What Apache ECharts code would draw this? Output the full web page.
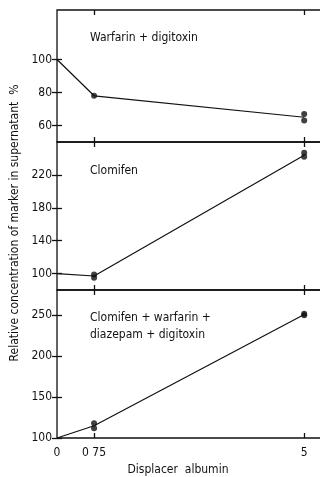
<!DOCTYPE html>
<html>
<head>
<meta charset="utf-8">
<script src="https://cdn.jsdelivr.net/npm/echarts@6/dist/echarts.min.js"></script>
<style>
  html, body { margin: 0; padding: 0; background: #fff; }
  #chart { width: 320px; height: 477px; }
</style>
</head>
<body>
<div id="chart"></div>
<script>
// x positions (displacer albumin) and tick labels
var xTicks = [0, 0.75, 5];
var xTickLabels = ['0', '0 75', '5'];

// panel titles
var panelTitles = [['Warfarin + digitoxin'], ['Clomifen'], ['Clomifen + warfarin +', 'diazepam + digitoxin']];

// connecting line (mean values) per panel
var lineWarfarin = [[0, 100], [0.75, 78], [5, 65]];
var lineClomifen = [[0, 100], [0.75, 97], [5, 244]];
var lineMix = [[0, 100], [0.75, 115], [5, 251]];

// measured dots per panel
var dotsWarfarin = [[0.75, 78], [5, 67], [5, 63]];
var dotsClomifen = [[0.75, 99], [0.75, 95], [5, 247], [5, 242]];
var dotsMix = [[0.75, 118], [0.75, 112], [5, 252], [5, 250]];

// y tick labels per panel
var yTicks1 = [60, 80, 100];
var yTicks2 = [100, 140, 180, 220];
var yTicks3 = [100, 150, 200, 250];

var font = '"Liberation Sans Narrow", "DejaVu Sans Condensed", sans-serif';
var ink = '#111';

var myChart = echarts.init(document.getElementById('chart'));

var grids = [
  {left: 57, width: 265, top: 10, height: 132},
  {left: 57, width: 265, top: 142, height: 148},
  {left: 57, width: 265, top: 290, height: 148}
];
grids.forEach(function(g) {
  g.show = true;
  g.outerBoundsMode = 'none';
  g.containLabel = false;
  g.borderColor = ink;
  g.borderWidth = 1.3;
  g.backgroundColor = 'transparent';
});

var yRanges = [[50, 130, yTicks1], [80, 260, yTicks2], [100, 281, yTicks3]];
var xMax = 5.36;

function tick(vals) {
  return {show: true, inside: false, length: -5, customValues: vals, lineStyle: {color: ink, width: 1.3}};
}

var xAxes = [];
var yAxes = [];
for (var i = 0; i < 3; i++) {
  // bottom axis
  xAxes.push({
    type: 'value', gridIndex: i, min: 0, max: xMax, position: 'bottom',
    axisLine: {show: false},
    splitLine: {show: false},
    axisTick: tick([0.75, 5]),
    axisLabel: {
      show: i === 2, customValues: xTicks, margin: 9,
      fontFamily: font, fontSize: 12, color: ink,
      formatter: function(v) {
        var k = xTicks.indexOf(v);
        return k >= 0 ? xTickLabels[k] : '';
      }
    }
  });
  // top axis
  xAxes.push({
    type: 'value', gridIndex: i, min: 0, max: xMax, position: 'top',
    axisLine: {show: false},
    splitLine: {show: false},
    axisTick: tick([0.75, 5]),
    axisLabel: {show: false}
  });
  var r = yRanges[i];
  yAxes.push({
    type: 'value', gridIndex: i, min: r[0], max: r[1], position: 'left',
    axisLine: {show: false},
    splitLine: {show: false},
    axisTick: tick(r[2]),
    axisLabel: {customValues: r[2], fontFamily: font, fontSize: 12, color: ink, margin: 5}
  });
  yAxes.push({
    type: 'value', gridIndex: i, min: r[0], max: r[1], position: 'right',
    axisLine: {show: false},
    splitLine: {show: false},
    axisTick: tick(r[2]),
    axisLabel: {show: false}
  });
}

var lines = [lineWarfarin, lineClomifen, lineMix];
var dots = [dotsWarfarin, dotsClomifen, dotsMix];
var series = [];
for (var j = 0; j < 3; j++) {
  series.push({
    type: 'line', xAxisIndex: j * 2, yAxisIndex: j * 2,
    data: lines[j], symbol: 'none', silent: true,
    lineStyle: {color: ink, width: 1.2}
  });
  series.push({
    type: 'scatter', xAxisIndex: j * 2, yAxisIndex: j * 2,
    data: dots[j], symbol: 'circle', symbolSize: 6, silent: true,
    itemStyle: {color: ink}
  });
}

var titleY = [[39], [172], [319, 336]];
var graphics = [];
for (var p = 0; p < 3; p++) {
  for (var q = 0; q < panelTitles[p].length; q++) {
    graphics.push({
      type: 'text', left: 90, top: titleY[p][q] - 7,
      style: {text: panelTitles[p][q], font: '12px ' + font, fill: ink}
    });
  }
}
graphics.push({
  type: 'text', x: 15, y: 223, rotation: Math.PI / 2,
  style: {text: 'Relative concentration of marker in supernatant  %', font: '12px ' + font, fill: ink, align: 'center', verticalAlign: 'middle'}
});
graphics.push({
  type: 'text', x: 178, y: 470,
  style: {text: 'Displacer  albumin', font: '12px ' + font, fill: ink, align: 'center', verticalAlign: 'middle'}
});

var option = {
  animation: false,
  backgroundColor: '#fff',
  grid: grids,
  xAxis: xAxes,
  yAxis: yAxes,
  series: series,
  graphic: graphics
};
myChart.setOption(option);
</script>
</body>
</html>
